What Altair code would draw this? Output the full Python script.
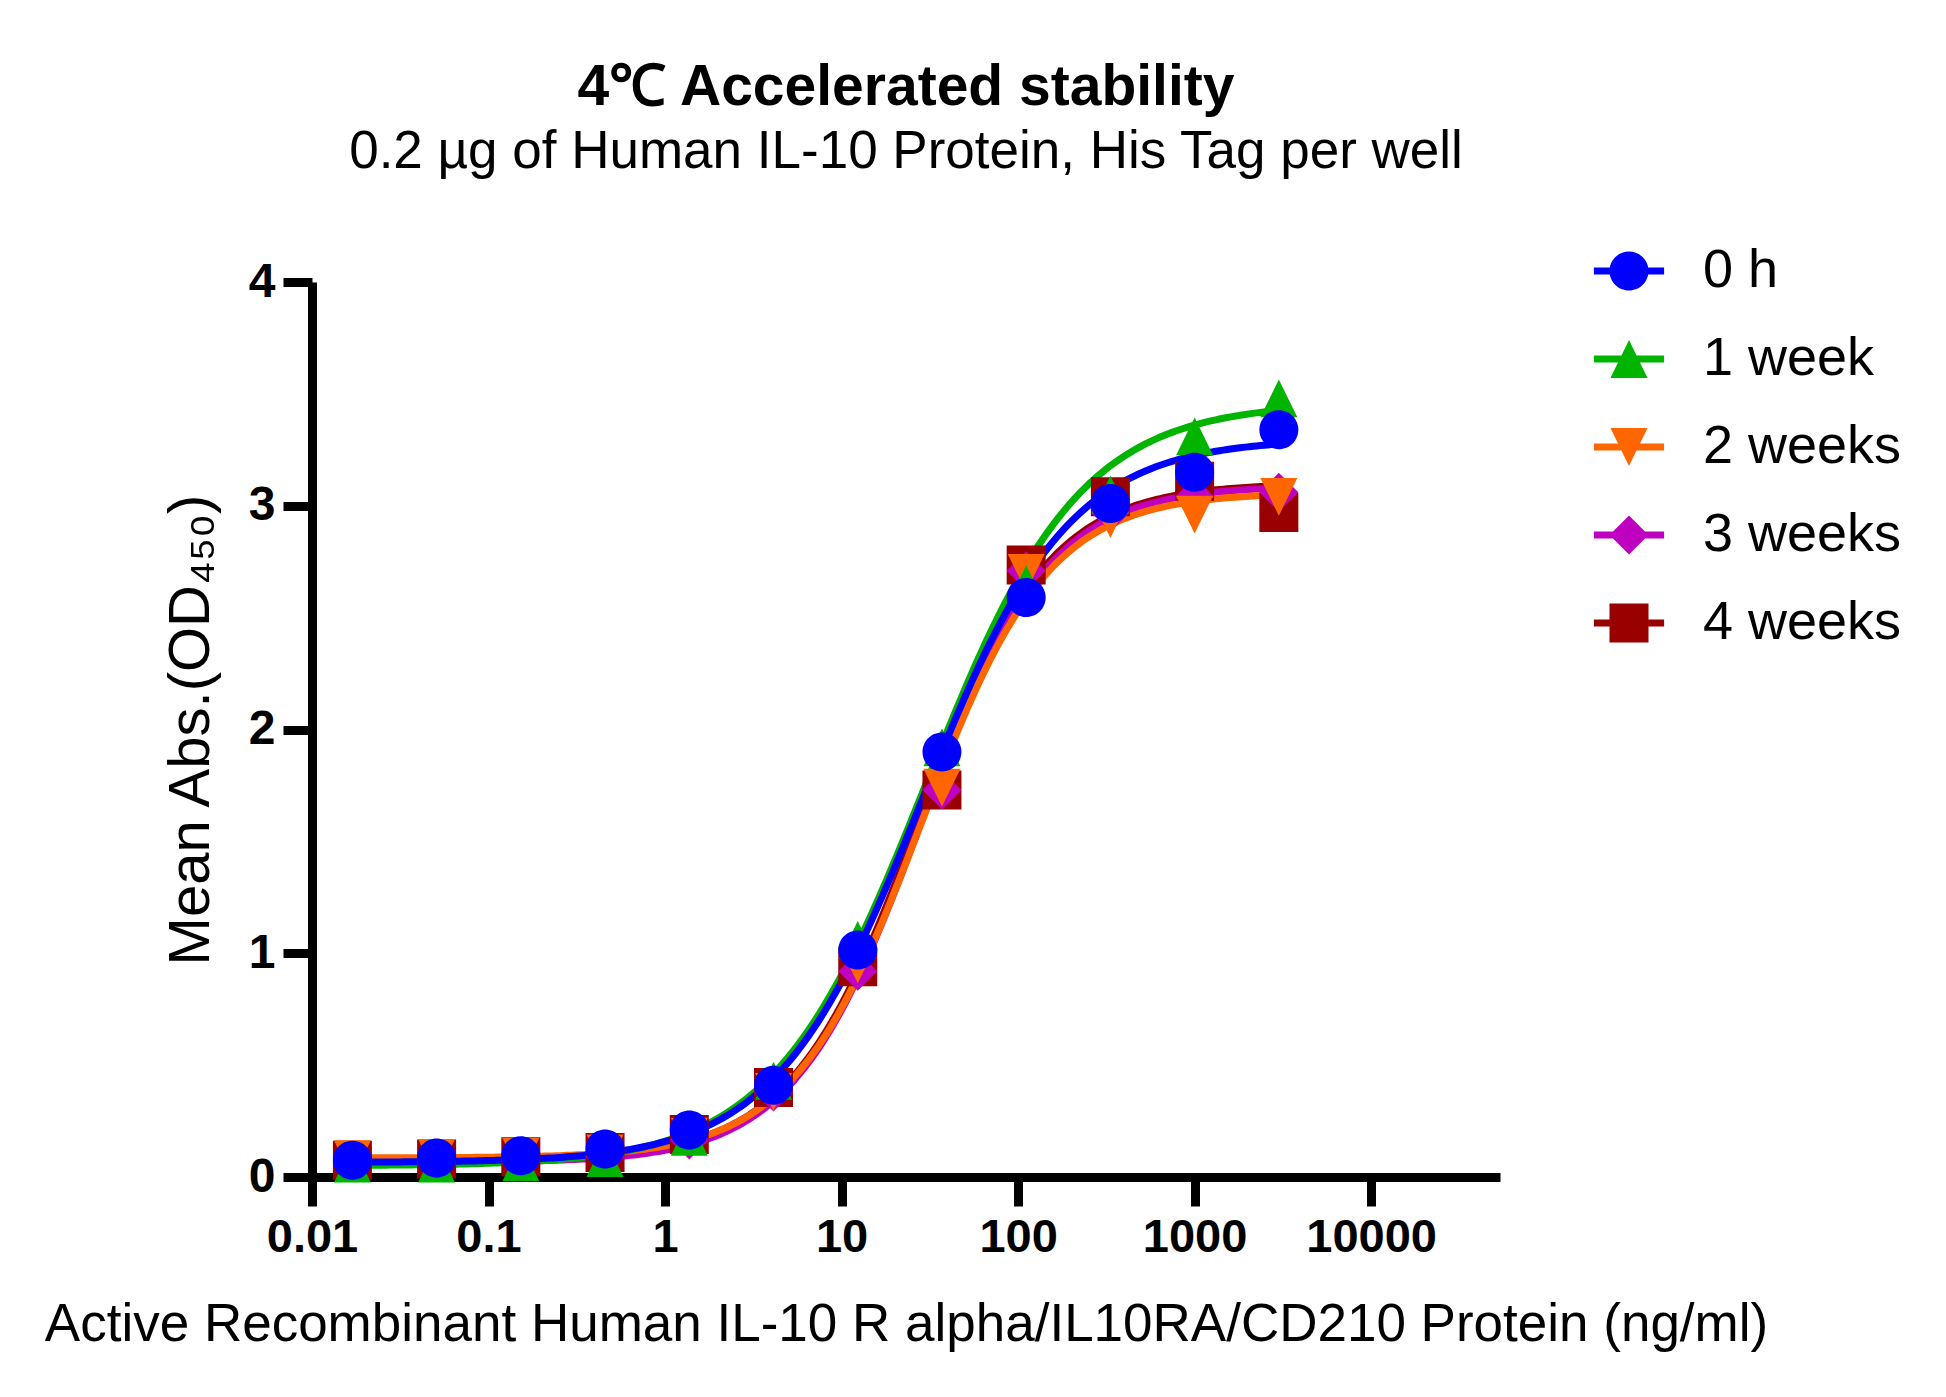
import altair as alt
import pandas as pd

# ---- data ----
series = ["0 h", "1 week", "2 weeks", "3 weeks", "4 weeks"]
colors = ["#0000FF", "#00B400", "#FF6600", "#C000C0", "#990000"]
conc = [0.01694, 0.0508, 0.1524, 0.4572, 1.372, 4.115, 12.35, 37.04, 111.1, 333.3, 1000, 3000]
od_0h = [0.075, 0.085, 0.095, 0.125, 0.21, 0.41, 1.015, 1.90, 2.59, 3.01, 3.15, 3.34]
od_1w = [0.06, 0.06, 0.065, 0.085, 0.18, 0.43, 1.06, 1.92, 2.65, 3.05, 3.31, 3.48]
od_2w = [0.08, 0.085, 0.09, 0.105, 0.18, 0.38, 0.95, 1.74, 2.70, 2.94, 2.96, 3.04]
od_3w = [0.065, 0.065, 0.07, 0.09, 0.165, 0.38, 0.92, 1.73, 2.71, 2.97, 3.04, 3.06]
od_4w = [0.075, 0.08, 0.09, 0.11, 0.19, 0.40, 0.94, 1.73, 2.735, 3.04, 3.11, 2.97]

# 4-parameter logistic fit parameters
fit_bottom = [0.065, 0.05, 0.085, 0.065, 0.08]
fit_top = [3.30, 3.46, 3.06, 3.09, 3.10]
fit_ec50 = [28.5, 30.0, 28.0, 28.0, 27.5]
fit_hill = [1.05, 1.0, 1.2, 1.2, 1.2]

x_ticks = [0.01, 0.1, 1, 10, 100, 1000, 10000]
y_ticks = [0, 1, 2, 3, 4]

title_text = "4\u2103 Accelerated stability"
subtitle_text = "0.2 \u00b5g of Human IL-10 Protein, His Tag per well"
x_title = "Active Recombinant Human IL-10 R alpha/IL10RA/CD210 Protein (ng/ml)"
y_title = "Mean Abs.(OD\u2084\u2085\u2080)"

# ---- marker shapes ----
circ = "M-1,0A1,1,0,1,1,1,0A1,1,0,1,1,-1,0Z"
tri_up = "M0,-0.97L0.95,0.97L-0.95,0.97Z"
tri_dn = "M-0.95,-0.97L0.95,-0.97L0,0.97Z"
diam = "M0,-1L1,0L0,1L-1,0Z"
sq = "M-1,-1L1,-1L1,1L-1,1Z"
plot_shapes = [circ, tri_up, tri_dn, diam, sq]
bar = "M-1.8,-0.18L1.8,-0.18L1.8,0.18L-1.8,0.18Z"
legend_shapes = [s + bar for s in plot_shapes]

FONT = "Liberation Sans"
all_od = [od_0h, od_1w, od_2w, od_3w, od_4w]

# points, drawn 4 weeks first so that 0 h is on top
rows = []
for i in reversed(range(len(series))):
    for c, v in zip(conc, all_od[i]):
        rows.append({"conc": c, "od": v, "series": series[i]})
pts = pd.DataFrame(rows)

x_scale = alt.Scale(type="log", domain=[0.01, 10 ** 4.73], nice=False)
y_scale = alt.Scale(domain=[0, 4], nice=False, zero=False)

x_axis = alt.Axis(values=x_ticks, format="~g", title=x_title, grid=False,
                  labelFontSize=47, labelFontWeight="bold", labelFont=FONT,
                  labelColor="black", labelFlush=False, labelOverlap=False,
                  labelPadding=8, tickSize=29, tickWidth=9, tickColor="black",
                  domainWidth=9, domainColor="black",
                  titleFontSize=53, titleFontWeight="normal", titleFont=FONT,
                  titleColor="black", titlePadding=38)
y_axis = alt.Axis(values=y_ticks, format="d", title=y_title, grid=False,
                  labelFontSize=48, labelFontWeight="bold", labelFont=FONT,
                  labelColor="black", labelFlush=False, labelOverlap=False,
                  labelPadding=8, tickSize=29, tickWidth=9, tickColor="black",
                  domainWidth=9, domainColor="black",
                  titleFontSize=58, titleFontWeight="normal", titleFont=FONT,
                  titleColor="black", titlePadding=28)

color_scale = alt.Scale(domain=series, range=colors)

# fitted curves computed by Vega from the fit parameters
lo, hi = conc[0], conc[-1]
curve = alt.Chart(alt.sequence(0, 1.0001, 0.004, as_="t")).transform_calculate(
    x=f"pow(10, log({lo})/LN10 + datum.t*(log({hi})/LN10 - log({lo})/LN10))"
)
for i in reversed(range(len(series))):
    expr = (f"{fit_bottom[i]} + ({fit_top[i]} - {fit_bottom[i]}) / "
            f"(1 + pow({fit_ec50[i]} / datum.x, {fit_hill[i]}))")
    curve = curve.transform_calculate(**{f"c{i}": expr})
curve = curve.transform_fold(
    [f"c{i}" for i in reversed(range(len(series)))], as_=["key", "y"]
).transform_calculate(
    series="[" + ",".join(f"'{s}'" for s in series) + "][toNumber(slice(datum.key, 1))]"
)

lines = curve.mark_line(strokeWidth=7, interpolate="linear").encode(
    x=alt.X("x:Q", scale=x_scale, axis=x_axis),
    y=alt.Y("y:Q", scale=y_scale, axis=y_axis),
    color=alt.Color("series:N", scale=color_scale, legend=None),
    detail="series:N",
)

points = alt.Chart(pts).mark_point(filled=True, opacity=1, size=1521, strokeWidth=0).encode(
    x=alt.X("conc:Q", scale=x_scale, axis=x_axis),
    y=alt.Y("od:Q", scale=y_scale, axis=y_axis),
    color=alt.Color("series:N", scale=color_scale, legend=None),
    shape=alt.Shape("series:N", scale=alt.Scale(domain=series, range=plot_shapes), legend=None),
)

legend_props = dict(title=None, orient="none", legendX=1290, legendY=-38,
                    symbolSize=1521, symbolStrokeWidth=0, symbolOpacity=1,
                    labelFontSize=54, labelFont=FONT, labelColor="black",
                    labelOffset=47, rowPadding=34, padding=0, labelLimit=600)

legend_layer = alt.Chart(pts).transform_filter("false").mark_point(
    filled=True, opacity=1, size=1521, strokeWidth=0
).encode(
    x=alt.X("conc:Q", scale=x_scale, axis=x_axis),
    y=alt.Y("od:Q", scale=y_scale, axis=y_axis),
    color=alt.Color("series:N", scale=color_scale, legend=alt.Legend(**legend_props)),
    shape=alt.Shape("series:N", scale=alt.Scale(domain=series, range=legend_shapes),
                    legend=alt.Legend(**legend_props)),
)

chart = alt.layer(lines, points, legend_layer).resolve_scale(
    shape="independent", color="independent"
).properties(
    width=1188,
    height=895,
    padding={"left": 304, "top": 274, "right": 430, "bottom": 204},
    autosize=alt.AutoSizeParams(type="none"),
    title=alt.TitleParams(text=title_text, subtitle=subtitle_text, anchor="middle",
                          frame="group", fontSize=57, fontWeight="bold", font=FONT,
                          color="black", subtitleFontSize=53, subtitleFont=FONT,
                          subtitleColor="black", subtitleFontWeight="normal",
                          subtitlePadding=9, offset=64),
    background="white",
).configure_view(stroke=None)

chart.save("out.html", embed_options={"renderer": "svg", "actions": False})
